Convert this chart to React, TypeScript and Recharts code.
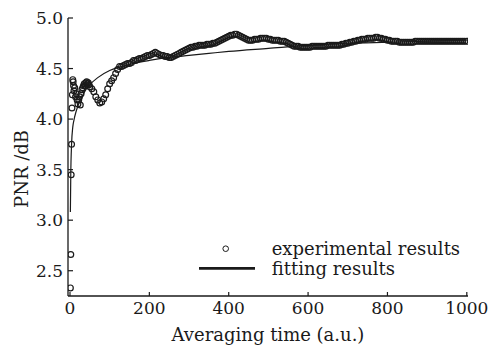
import React from 'react';
import { ComposedChart, Scatter, Line, XAxis, YAxis } from 'recharts';

// early, sparse samples of the measurement (averaging time, PNR in dB)
const earlyTime = [1, 2, 3, 4, 5, 6, 7, 8, 9, 10, 12, 14, 16, 18, 20, 22, 24, 26, 28, 30, 32, 34, 36, 38, 40, 42, 44, 46, 48];
const earlyPnr = [
  2.33, 2.66, 3.45, 3.75, 4.11, 4.24, 4.39, 4.37, 4.33, 4.28, 4.31, 4.22, 4.25, 4.19, 4.15, 4.19, 4.22, 4.14, 4.25,
  4.29, 4.31, 4.33, 4.35, 4.33, 4.36, 4.37, 4.35, 4.36, 4.34,
];

// regular samples from t = 50 to 1000, every 5
const sampleStart = 50;
const sampleStep = 5;
const samplePnr = [
  4.32, 4.30, 4.27, 4.22, 4.19, 4.16, 4.17, 4.20, 4.24, 4.30,
  4.35, 4.38, 4.41, 4.45, 4.49, 4.52, 4.52, 4.53, 4.54, 4.55,
  4.55, 4.56, 4.58, 4.58, 4.59, 4.60, 4.60, 4.61, 4.62, 4.63,
  4.63, 4.64, 4.65, 4.66, 4.65, 4.64, 4.63, 4.63, 4.62, 4.62,
  4.61, 4.61, 4.62, 4.63, 4.64, 4.65, 4.66, 4.67, 4.68, 4.69,
  4.70, 4.71, 4.71, 4.72, 4.72, 4.73, 4.73, 4.73, 4.73, 4.74,
  4.74, 4.74, 4.75, 4.75, 4.76, 4.77, 4.78, 4.79, 4.80, 4.81,
  4.82, 4.83, 4.83, 4.84, 4.84, 4.83, 4.82, 4.81, 4.80, 4.79,
  4.78, 4.78, 4.78, 4.79, 4.79, 4.79, 4.80, 4.80, 4.80, 4.80,
  4.79, 4.79, 4.78, 4.78, 4.78, 4.78, 4.77, 4.77, 4.77, 4.76,
  4.75, 4.74, 4.73, 4.72, 4.72, 4.72, 4.71, 4.71, 4.71, 4.71,
  4.71, 4.71, 4.72, 4.72, 4.72, 4.72, 4.72, 4.72, 4.72, 4.72,
  4.73, 4.73, 4.73, 4.73, 4.73, 4.73, 4.73, 4.74, 4.74, 4.75,
  4.75, 4.76, 4.76, 4.77, 4.77, 4.78, 4.78, 4.79, 4.79, 4.79,
  4.80, 4.80, 4.80, 4.80, 4.81, 4.81, 4.80, 4.80, 4.79, 4.79,
  4.78, 4.78, 4.77, 4.77, 4.77, 4.77, 4.76, 4.76, 4.76, 4.76,
  4.76, 4.76, 4.76, 4.76, 4.77, 4.77, 4.77, 4.77, 4.77, 4.77,
  4.77, 4.77, 4.77, 4.77, 4.77, 4.77, 4.77, 4.77, 4.77, 4.77,
  4.77, 4.77, 4.77, 4.77, 4.77, 4.77, 4.77, 4.77, 4.77, 4.77,
  4.77,
];

// fitted curve
const fitTime = [1, 2, 4, 7, 10, 15, 20, 30, 40, 50, 70, 100, 130, 160, 200, 250, 300, 350, 400, 500, 600, 700, 800, 900, 1000];
const fitPnr = [
  3.08, 3.45, 3.75, 3.92, 3.99, 4.07, 4.13, 4.22, 4.29, 4.34, 4.41, 4.48, 4.52, 4.55, 4.58, 4.61, 4.63, 4.65, 4.67,
  4.70, 4.73, 4.75, 4.76, 4.77, 4.78,
];

const xTicks = [0, 200, 400, 600, 800, 1000];
const yTicks = [2.5, 3.0, 3.5, 4.0, 4.5, 5.0];

const expData = [
  ...earlyTime.map((t, i) => ({ x: t, y: earlyPnr[i] })),
  ...samplePnr.map((v, i) => ({ x: sampleStart + i * sampleStep, y: v })),
];
const fitData = fitTime.map((t, i) => ({ x: t, y: fitPnr[i] }));

const FONT = '"DejaVu Serif", serif';
const INK = '#1a1a1a';

const Ring = (props: any) => {
  const { cx, cy } = props;
  if (cx == null || cy == null) return null;
  return <circle cx={cx} cy={cy} r={2.9} fill="none" stroke={INK} strokeWidth={1.2} />;
};

// rotated y axis title, drawn by hand so it is not wrapped
const YTitle = () => (
  <text
    x={21}
    y={169}
    transform="rotate(-90 21 169)"
    textAnchor="middle"
    dominantBaseline="central"
    fontSize={18}
    fill={INK}
    fontFamily={FONT}
  >
    PNR /dB
  </text>
);

export default function App() {
  return (
    <div style={{ position: 'absolute', left: 0, top: 0, width: 503, height: 347, background: '#fff' }}>
      <ComposedChart
        width={503}
        height={347}
        margin={{ top: 18, right: 35, bottom: 0, left: 0 }}
        style={{ fontFamily: FONT }}
      >
        <XAxis
          dataKey="x"
          type="number"
          domain={[-5, 1003]}
          ticks={xTicks}
          allowDataOverflow
          height={51}
          tickSize={-4}
          tickMargin={10}
          axisLine={{ stroke: INK, strokeWidth: 1.3 }}
          tickLine={{ stroke: INK, strokeWidth: 1.2 }}
          tick={{ fill: INK, fontSize: 17 }}
          label={{ value: 'Averaging time (a.u.)', position: 'insideBottom', offset: 6, fill: INK, fontSize: 18 }}
        />
        <XAxis xAxisId="top" orientation="top" height={0} tick={false} tickLine={false} axisLine={{ stroke: INK, strokeWidth: 1.3 }} />
        <YAxis
          dataKey="y"
          type="number"
          domain={[2.25, 5.0]}
          ticks={yTicks}
          allowDataOverflow
          width={68}
          tickSize={-5}
          tickMargin={10}
          tickFormatter={(v: number) => v.toFixed(1)}
          axisLine={{ stroke: INK, strokeWidth: 1.3 }}
          tickLine={{ stroke: INK, strokeWidth: 1.2 }}
          tick={{ fill: INK, fontSize: 17 }}
          label={<YTitle />}
        />
        <YAxis yAxisId="right" orientation="right" width={0} tick={false} tickLine={false} axisLine={{ stroke: INK, strokeWidth: 1.3 }} />
        <Scatter data={expData} shape={Ring} isAnimationActive={false} />
        <Line
          data={fitData}
          dataKey="y"
          type="monotone"
          stroke={INK}
          strokeWidth={1.2}
          dot={false}
          activeDot={false}
          isAnimationActive={false}
        />
      </ComposedChart>
      <svg
        width={270}
        height={40}
        style={{ position: 'absolute', left: 199, top: 239, fontFamily: FONT, overflow: 'visible' }}
      >
        <circle cx={26.7} cy={9.7} r={2.8} fill="none" stroke={INK} strokeWidth={1} />
        <text x={72.7} y={9.7} dy="0.35em" fontSize={18} fill={INK}>
          experimental results
        </text>
        <line x1={0} x2={56} y1={29.3} y2={29.3} stroke={INK} strokeWidth={2.8} />
        <text x={72.7} y={29.3} dy="0.35em" fontSize={18} fill={INK}>
          fitting results
        </text>
      </svg>
    </div>
  );
}
